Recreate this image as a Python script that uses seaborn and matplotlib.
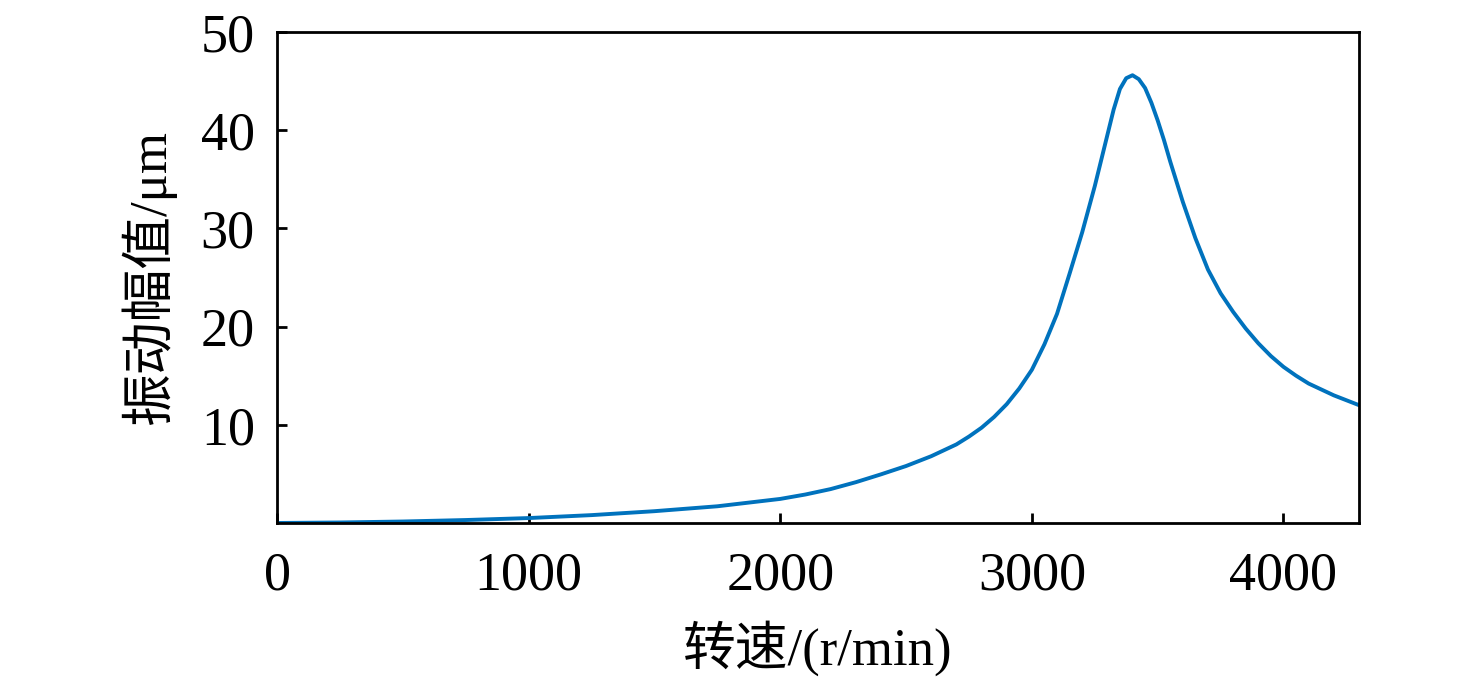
import numpy as np
import pandas as pd
import seaborn as sns
import matplotlib.pyplot as plt

# speed (r/min) and vibration amplitude (um)
speed = [0, 250, 500, 750, 1000, 1250, 1500, 1750, 2000, 2100, 2200, 2300,
         2400, 2500, 2600, 2700, 2750, 2800, 2850, 2900, 2950, 3000, 3050,
         3100, 3150, 3200, 3250, 3300, 3325, 3350, 3375, 3400, 3425, 3450,
         3475, 3500, 3525, 3550, 3600, 3650, 3700, 3750, 3800, 3850, 3900,
         3950, 4000, 4050, 4100, 4150, 4200, 4250, 4300]
amplitude = [0.0, 0.05, 0.15, 0.3, 0.5, 0.8, 1.2, 1.7, 2.45, 2.9, 3.45, 4.15,
             4.95, 5.8, 6.8, 8.0, 8.8, 9.7, 10.8, 12.1, 13.7, 15.6, 18.2,
             21.3, 25.4, 29.6, 34.3, 39.5, 42.1, 44.2, 45.3, 45.6, 45.2, 44.3,
             42.8, 41.0, 39.0, 36.8, 32.7, 29.0, 25.8, 23.4, 21.5, 19.8, 18.3,
             17.0, 15.9, 15.0, 14.2, 13.6, 13.0, 12.5, 12.0]

xticks = [0, 1000, 2000, 3000, 4000]
yticks = [10, 20, 30, 40, 50]

df = pd.DataFrame({'speed': speed, 'amp': amplitude})

sns.set_style('ticks')
plt.rcParams['font.family'] = ['Liberation Serif', 'Noto Sans CJK SC']
plt.rcParams['axes.linewidth'] = 2.0
plt.rcParams['text.color'] = 'black'
plt.rcParams['axes.labelcolor'] = 'black'
plt.rcParams['xtick.color'] = 'black'
plt.rcParams['ytick.color'] = 'black'

fig = plt.figure(figsize=(14.76, 6.83), dpi=100)
ax = fig.add_axes([0.1877, 0.2343, 0.7330, 0.7188])

sns.lineplot(data=df, x='speed', y='amp', ax=ax, color='#0072BD', linewidth=2.8)

ax.set_xlim(0, 4300)
ax.set_ylim(0, 50)
ax.set_xticks(xticks)
ax.set_yticks(yticks)
ax.tick_params(direction='in', length=7, width=2.0, labelsize=39)
ax.tick_params(axis='x', pad=20)
ax.tick_params(axis='y', pad=16)
for s in ax.spines.values():
    s.set_visible(True)
    s.set_color('black')

ax.set_xlabel('转速/(r/min)', fontsize=38, labelpad=14)
ax.set_ylabel('振动幅值/μm', fontsize=38, labelpad=18)

fig.savefig('out.png', dpi=100)
